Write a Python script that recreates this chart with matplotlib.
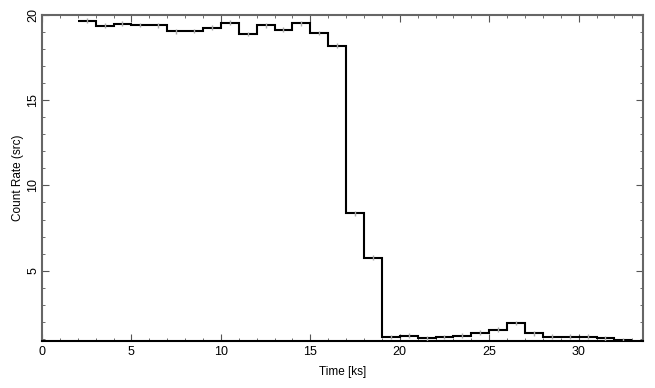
import matplotlib
matplotlib.use("Agg")
import matplotlib.pyplot as plt
import numpy as np
from matplotlib.ticker import MultipleLocator

plt.rcParams["font.family"] = ["Liberation Sans", "DejaVu Sans"]

# 1 ks bins, edges from 2 to 33
bin_edges = np.arange(2, 34, 1.0)
rates = [19.65, 19.36, 19.47, 19.40, 19.37, 19.03, 19.05, 19.24, 19.53, 18.87,
         19.38, 19.12, 19.50, 18.93, 18.18, 8.37, 5.76, 1.12, 1.18, 1.03,
         1.12, 1.20, 1.37, 1.55, 1.94, 1.33, 1.14, 1.14, 1.14, 1.04, 0.92]
rate_err = [0.14] * len(rates)

centers = bin_edges[:-1] + 0.5

fig = plt.figure(figsize=(6.55, 3.88), dpi=100)
ax = fig.add_axes([0.0641, 0.122, 0.9176, 0.840])

ax.stairs(rates, bin_edges, baseline=None, color="black", linewidth=1.5, zorder=2)
ax.errorbar(centers, rates, yerr=rate_err, fmt="none", ecolor="#a8a8a8",
            elinewidth=1.0, zorder=3)

ax.set_xlim(0, 33.6)
ax.set_ylim(0.9, 20)
ax.xaxis.set_major_locator(MultipleLocator(5))
ax.xaxis.set_minor_locator(MultipleLocator(1))
ax.yaxis.set_major_locator(MultipleLocator(5))
ax.yaxis.set_minor_locator(MultipleLocator(1))
ax.tick_params(which="both", direction="in", top=True, right=True,
               color="#555555", labelsize=9)
ax.tick_params(which="major", length=5)
ax.tick_params(which="minor", length=2.5)
ax.tick_params(axis="y", pad=2)
for lab in ax.get_yticklabels():
    lab.set_rotation(90)
    lab.set_va("center")
for side in ["left", "right", "top"]:
    ax.spines[side].set_color("#666666")
    ax.spines[side].set_linewidth(1.5)
ax.spines["bottom"].set_color("black")
ax.spines["bottom"].set_linewidth(1.5)

ax.set_xlabel("Time [ks]", fontsize=8.5, labelpad=6)
ax.set_ylabel("Count Rate (src)", fontsize=8.5)
ax.yaxis.set_label_coords(-0.03, 0.5)

fig.savefig("out.png", dpi=100)
